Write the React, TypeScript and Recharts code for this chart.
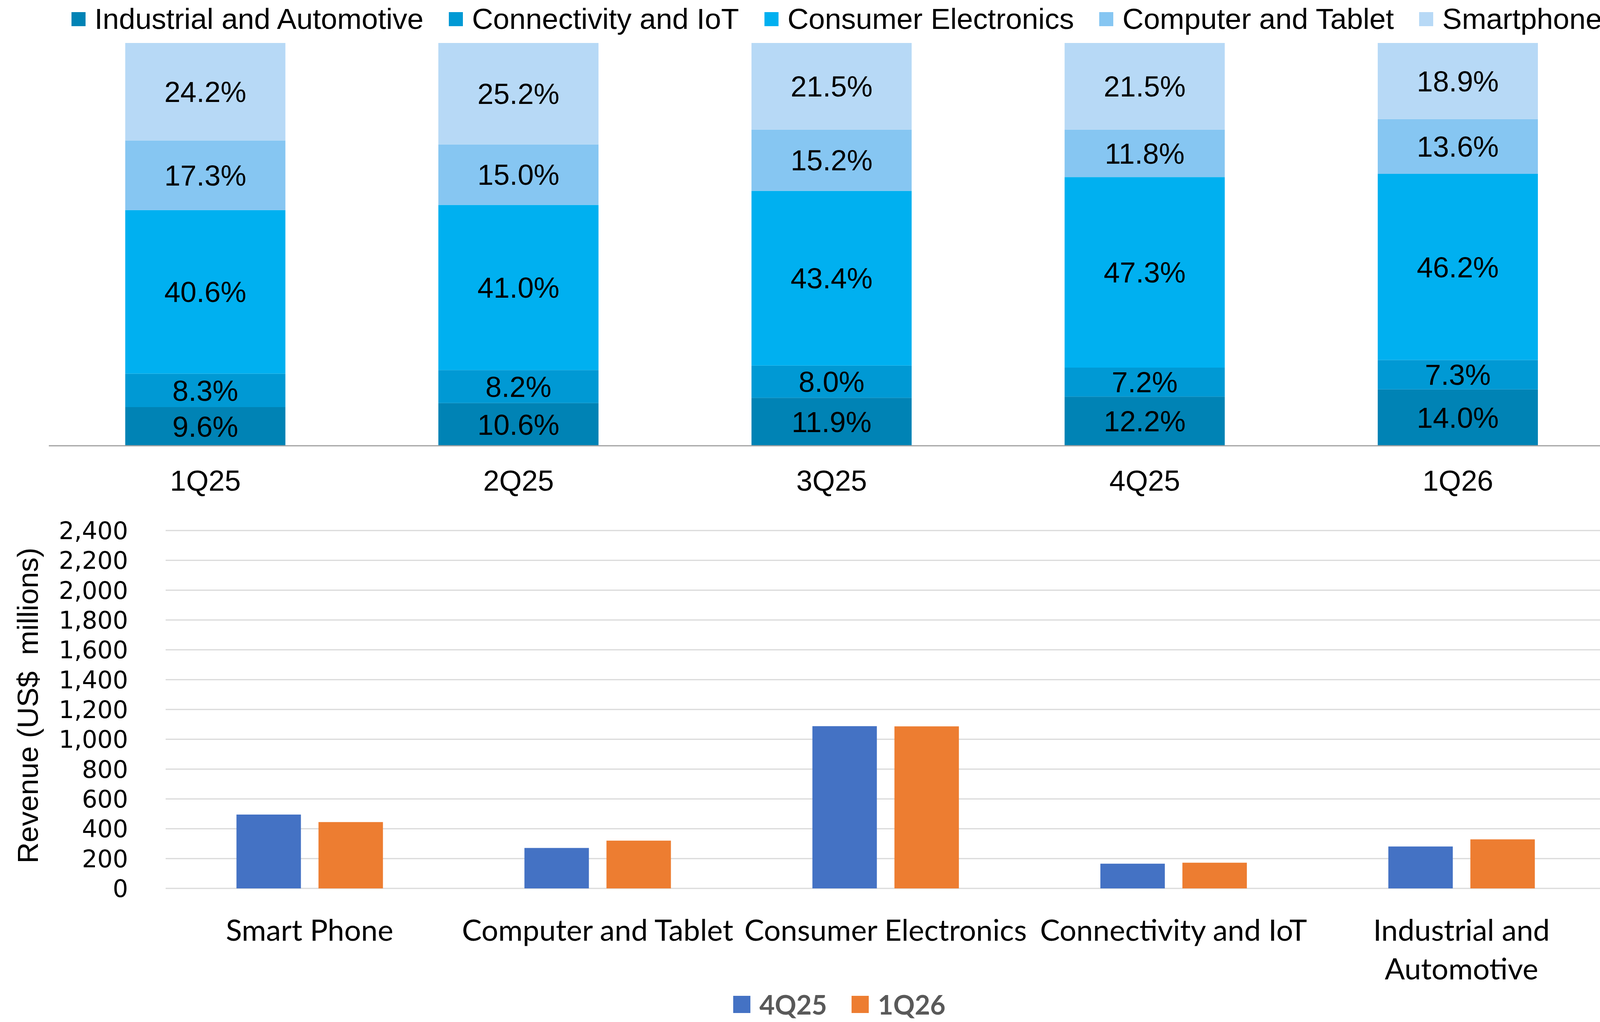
import React from "react";
import { BarChart, Bar, XAxis, YAxis, CartesianGrid, LabelList, Legend } from "recharts";

// top chart: revenue share by segment, per quarter (%)
const quarters = ["1Q25", "2Q25", "3Q25", "4Q25", "1Q26"];
const industrialShare = [9.6, 10.6, 11.9, 12.2, 14.0];
const connectivityShare = [8.3, 8.2, 8.0, 7.2, 7.3];
const consumerShare = [40.6, 41.0, 43.4, 47.3, 46.2];
const computerShare = [17.3, 15.0, 15.2, 11.8, 13.6];
const smartphoneShare = [24.2, 25.2, 21.5, 21.5, 18.9];

// bottom chart: revenue by segment (US$ millions)
const segments = ["Smart Phone", "Computer and Tablet", "Consumer Electronics", "Connectivity and IoT", "Industrial and Automotive"];
const revenue4Q25 = [495, 271, 1088, 166, 281];
const revenue1Q26 = [445, 320, 1087, 172, 329];
const revenueTicks = [0, 200, 400, 600, 800, 1000, 1200, 1400, 1600, 1800, 2000, 2200, 2400];

const ARIAL = "'Liberation Sans', Arial, sans-serif";
const CALIBRI = "Lato, 'Open Sans', sans-serif";

const shareSeries = [
  { key: "industrial", name: "Industrial and Automotive", color: "#0083B5", values: industrialShare },
  { key: "connectivity", name: "Connectivity and IoT", color: "#0099D4", values: connectivityShare },
  { key: "consumer", name: "Consumer Electronics", color: "#00B0F0", values: consumerShare },
  { key: "computer", name: "Computer and Tablet", color: "#86C6F2", values: computerShare },
  { key: "smartphone", name: "Smartphone", color: "#B7D9F6", values: smartphoneShare },
];

const shareData = quarters.map((q, i) => {
  const row: Record<string, string | number> = { quarter: q };
  shareSeries.forEach((s) => (row[s.key] = s.values[i]));
  return row;
});

const revenueSeries = [
  { key: "q4", name: "4Q25", color: "#4472C4", values: revenue4Q25 },
  { key: "q1", name: "1Q26", color: "#ED7D31", values: revenue1Q26 },
];

const revenueData = segments.map((s, i) => ({ segment: s, q4: revenue4Q25[i], q1: revenue1Q26[i] }));

function TopLegend() {
  return (
    <div style={{ height: 110, display: "flex", alignItems: "flex-start", paddingLeft: 183, paddingTop: 11, boxSizing: "border-box", fontFamily: ARIAL, fontSize: 75, color: "#000", whiteSpace: "nowrap" }}>
      {shareSeries.map((s) => (
        <div key={s.key} style={{ display: "flex", alignItems: "center", marginRight: 65 }}>
          <span style={{ display: "inline-block", width: 36, height: 36, background: s.color, marginRight: 23 }} />
          <span style={{ lineHeight: 1 }}>{s.name}</span>
        </div>
      ))}
    </div>
  );
}

function BottomLegend() {
  return (
    <div style={{ height: 62, display: "flex", alignItems: "center", paddingLeft: 1877, boxSizing: "border-box", fontFamily: CALIBRI, fontWeight: 700, fontSize: 68, color: "#595959", whiteSpace: "nowrap" }}>
      {revenueSeries.map((s) => (
        <div key={s.key} style={{ display: "flex", alignItems: "center", marginRight: 63 }}>
          <span style={{ display: "inline-block", width: 44, height: 44, background: s.color, marginRight: 23 }} />
          <span style={{ lineHeight: 1 }}>{s.name}</span>
        </div>
      ))}
    </div>
  );
}

function wrapWords(text: string, maxChars: number) {
  const lines: string[] = [];
  let cur = "";
  for (const w of text.split(" ")) {
    if (cur && (cur + " " + w).length > maxChars) {
      lines.push(cur);
      cur = w;
    } else {
      cur = cur ? cur + " " + w : w;
    }
  }
  if (cur) lines.push(cur);
  return lines;
}

function SegmentTick(props: any) {
  const { x, y, payload } = props;
  const lines = wrapWords(String(payload.value), 20);
  return (
    <text x={x} y={y + 134} textAnchor="middle" fontFamily={CALIBRI} fontSize={76} fill="#000">
      {lines.map((l, i) => (
        <tspan key={i} x={x} dy={i === 0 ? 0 : 99}>
          {l}
        </tspan>
      ))}
    </text>
  );
}

export default function App() {
  return (
    <div style={{ position: "absolute", left: 0, top: 0, width: 4155, height: 2616, background: "#fff", overflow: "hidden" }}>
      <div style={{ position: "absolute", left: 0, top: 0 }}>
        <BarChart width={4155} height={1290} data={shareData} margin={{ top: 0, right: 22, bottom: 0, left: 125 }} barCategoryGap="24.4%">
          <YAxis hide domain={[0, 100]} allowDataOverflow />
          <XAxis
            dataKey="quarter"
            height={149}
            tickLine={false}
            tickSize={0}
            tickMargin={62}
            axisLine={{ stroke: "#A0A0A0", strokeWidth: 3 }}
            tick={{ fontFamily: ARIAL, fontSize: 74, fill: "#000" }}
          />
          <Legend verticalAlign="top" content={<TopLegend />} wrapperStyle={{ left: 0, top: 0, width: 4155 }} />
          {shareSeries.map((s) => (
            <Bar key={s.key} dataKey={s.key} name={s.name} stackId="share" fill={s.color} isAnimationActive={false}>
              <LabelList
                dataKey={s.key}
                position="center"
                formatter={(v: any) => `${Number(v).toFixed(1)}%`}
                fill="#000"
                fontSize={74}
                fontFamily={ARIAL}
              />
            </Bar>
          ))}
        </BarChart>
      </div>
      <div style={{ position: "absolute", left: 0, top: 1290 }}>
        <BarChart width={4155} height={1326} data={revenueData} margin={{ top: 68, right: 45, bottom: 0, left: 0 }} barCategoryGap="24.6%" barGap={45}>
          <CartesianGrid vertical={false} stroke="#D9D9D9" strokeWidth={3} />
          <XAxis dataKey="segment" height={280} axisLine={false} tickLine={false} tickSize={0} tickMargin={0} interval={0} tick={<SegmentTick />} />
          <YAxis
            width={424}
            domain={[0, 2400]}
            ticks={revenueTicks}
            axisLine={false}
            tickLine={false}
            tickSize={0}
            tickMargin={96}
            tick={{ fontFamily: "'DejaVu Sans', Verdana, sans-serif", fontSize: 62, fill: "#000" }}
            tickFormatter={(v: number) => v.toLocaleString("en-US")}
            label={{
              content: () => (
                <text
                  x={71}
                  y={516}
                  transform="rotate(-90 71 516)"
                  textAnchor="middle"
                  dominantBaseline="central"
                  fontFamily={ARIAL}
                  fontSize={75}
                  fill="#000"
                  style={{ whiteSpace: "pre" }}
                >
                  Revenue (US$  millions)
                </text>
              ),
            }}
          />
          <Legend verticalAlign="bottom" content={<BottomLegend />} wrapperStyle={{ left: 0, bottom: 14, width: 4155 }} />
          {revenueSeries.map((s) => (
            <Bar key={s.key} dataKey={s.key} name={s.name} fill={s.color} isAnimationActive={false} />
          ))}
        </BarChart>
      </div>
    </div>
  );
}
